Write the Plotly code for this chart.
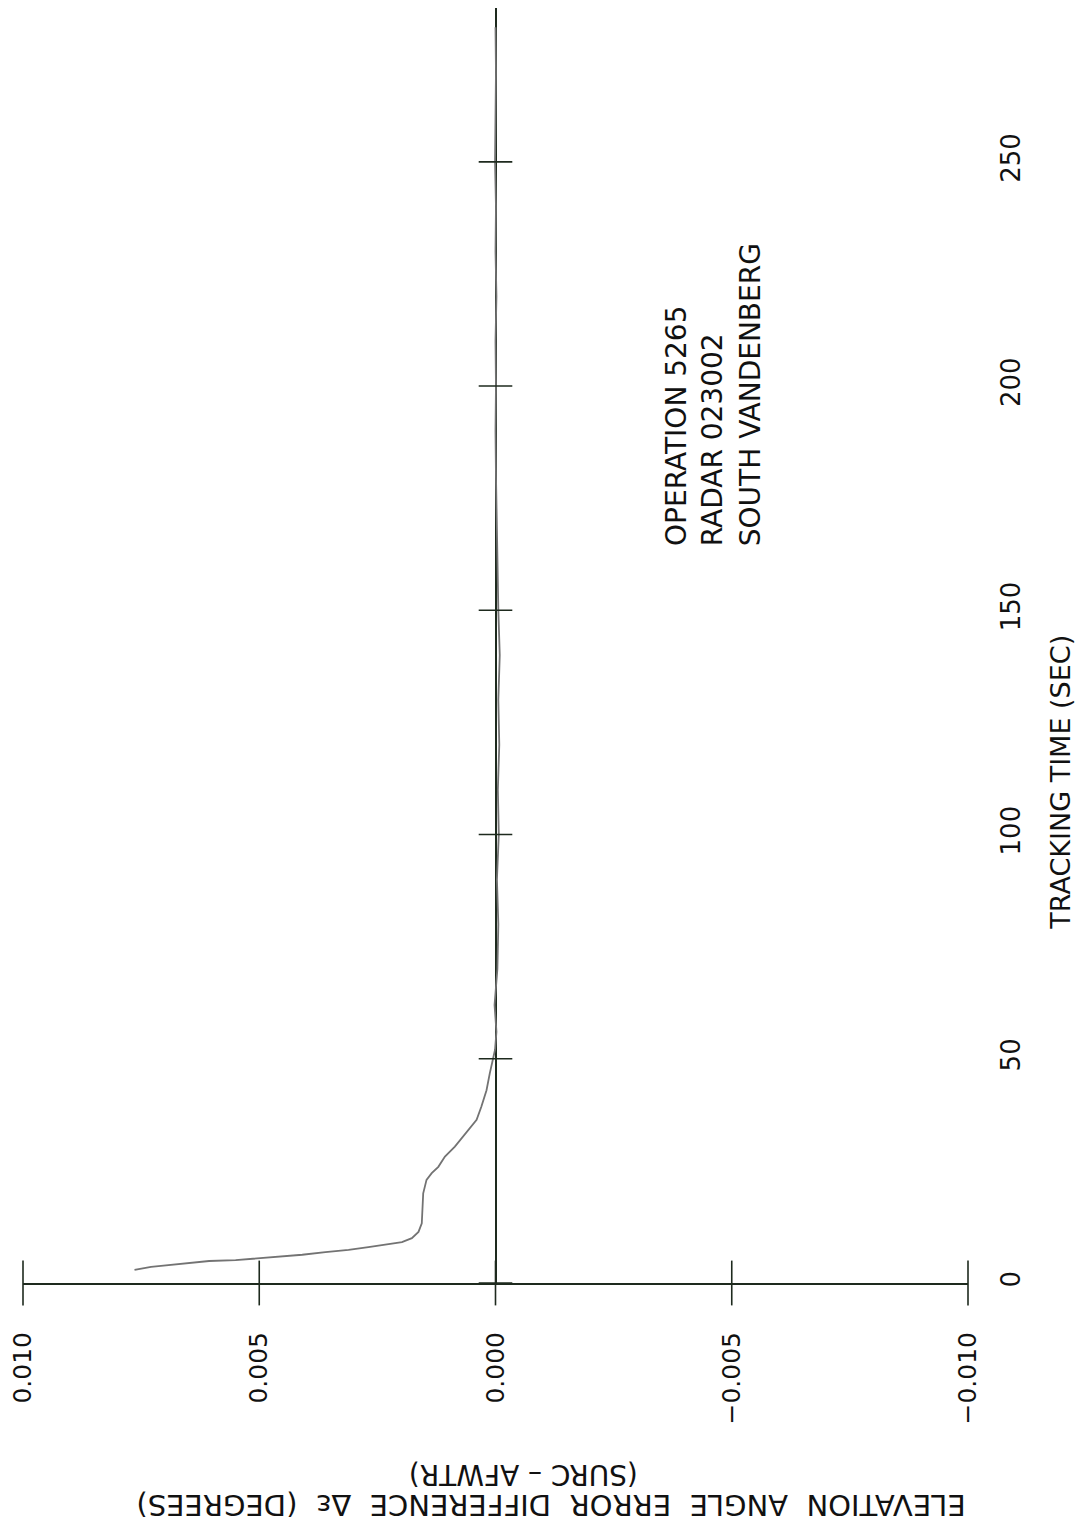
import plotly.graph_objects as go

# ---- data ----
time_s = [2.9, 3.6, 3.8, 4.4, 4.9, 5.1, 5.5, 5.9, 6.3, 6.9, 7.4, 8.0, 8.7, 9.1, 10.0,
          11.4, 13.3, 16.3, 20.0, 23.0, 24.5, 25.9, 28.2, 30.4, 32.3, 34.1, 36.4,
          39.3, 43.0, 46.8, 49.7, 52.0, 56, 62, 70, 80, 90, 100, 110, 120, 130,
          140, 150, 160, 170, 180, 190, 200, 210, 220, 230, 240, 250, 260, 270, 280]
err_deg = [0.00764, 0.00729, 0.00708, 0.00655, 0.00606, 0.00550, 0.00501, 0.00458,
           0.00409, 0.00360, 0.00311, 0.00269, 0.00226, 0.00198, 0.00177, 0.00163,
           0.00156, 0.00155, 0.00153, 0.00146, 0.00135, 0.00121, 0.00107, 0.00086,
           0.00072, 0.00058, 0.00040, 0.00030, 0.00019, 0.00012, 0.00005, 0.00001,
           -0.00002, 0.00002, -0.00004, -0.00006, -0.00003, -0.00007, -0.00005,
           -0.00008, -0.00006, -0.00009, -0.00006, -0.00004, -0.00002, -0.00001,
           0.00000, -0.00001, 0.00000, -0.00002, 0.00000, -0.00001, 0.00001,
           0.00000, -0.00001, 0.00000]

err_ticks = [0.010, 0.005, 0.000, -0.005, -0.010]
err_ticklabels = ["0.010", "0.005", "0.000", "\u22120.005", "\u22120.010"]
time_ticks = [0, 50, 100, 150, 200, 250]
time_ticklabels = ["0", "50", "100", "150", "200", "250"]

AX = "#1e2a1e"
FONT = "DejaVu Sans"
TXT = "#111111"

fig = go.Figure()

# data curve
fig.add_trace(go.Scatter(x=err_deg, y=time_s, mode="lines",
                         line=dict(color="#737373", width=1.8),
                         hoverinfo="skip", showlegend=False))

# crossing tick marks on the error axis (along time = 0)
fig.add_trace(go.Scatter(x=err_ticks, y=[0] * len(err_ticks), mode="markers",
                         marker=dict(symbol="line-ns", size=32,
                                     line=dict(color=AX, width=1.6)),
                         cliponaxis=False, hoverinfo="skip", showlegend=False))
# crossing tick marks on the time axis (along error = 0)
fig.add_trace(go.Scatter(x=[0] * len(time_ticks), y=time_ticks, mode="markers",
                         marker=dict(symbol="line-ew", size=24,
                                     line=dict(color=AX, width=1.6)),
                         cliponaxis=False, hoverinfo="skip", showlegend=False))

fig.update_layout(
    width=1083, height=1531, autosize=False,
    margin=dict(l=20, r=115, t=8, b=248),
    paper_bgcolor="white", plot_bgcolor="white",
    font=dict(family=FONT, color=TXT),
    xaxis=dict(range=[0.010, -0.010], tickvals=err_ticks, ticktext=err_ticklabels,
               tickangle=-90, ticks="", showgrid=False,
               showline=True, linecolor=AX, linewidth=2,
               zeroline=True, zerolinecolor=AX, zerolinewidth=2,
               ticklabelstandoff=37, tickfont=dict(size=25, family=FONT, color=TXT)),
    yaxis=dict(range=[0, 284.3], tickvals=time_ticks, ticktext=time_ticklabels,
               side="right", tickangle=-90, ticks="", showgrid=False,
               showline=False, zeroline=False,
               ticklabelstandoff=25, tickfont=dict(size=26, family=FONT, color=TXT)),
)

# axis titles and annotation
fig.add_annotation(text="TRACKING TIME (SEC)", xref="paper", yref="paper",
                   x=(1060 - 20) / 948, y=(1283 - 782) / 1275, textangle=-90,
                   showarrow=False, xanchor="center", yanchor="middle",
                   font=dict(size=27, family=FONT, color=TXT))
fig.add_annotation(text="ELEVATION  ANGLE  ERROR  DIFFERENCE  \u0394\u03b5  (DEGREES)",
                   xref="paper", yref="paper",
                   x=(550 - 20) / 948, y=-(1505 - 1283) / 1275, textangle=180,
                   showarrow=False, xanchor="center", yanchor="middle",
                   font=dict(size=29, family=FONT, color=TXT))
fig.add_annotation(text="(SURC \u2013 AFWTR)", xref="paper", yref="paper",
                   x=(522 - 20) / 948, y=-(1475 - 1283) / 1275, textangle=180,
                   showarrow=False, xanchor="center", yanchor="middle",
                   font=dict(size=28, family=FONT, color=TXT))

info_lines = ["OPERATION 5265", "RADAR 023002", "SOUTH VANDENBERG"]
info_x_px = [675, 712, 750]
info_y_px = [548, 548, 548]
for txt, xp, yp in zip(info_lines, info_x_px, info_y_px):
    fig.add_annotation(text=txt, xref="paper", yref="paper",
                       x=(xp - 20) / 948, y=(1283 - yp) / 1275, textangle=-90,
                       showarrow=False, xanchor="center", yanchor="bottom",
                       font=dict(size=28, family=FONT, color=TXT))

fig.write_html("out.html")
